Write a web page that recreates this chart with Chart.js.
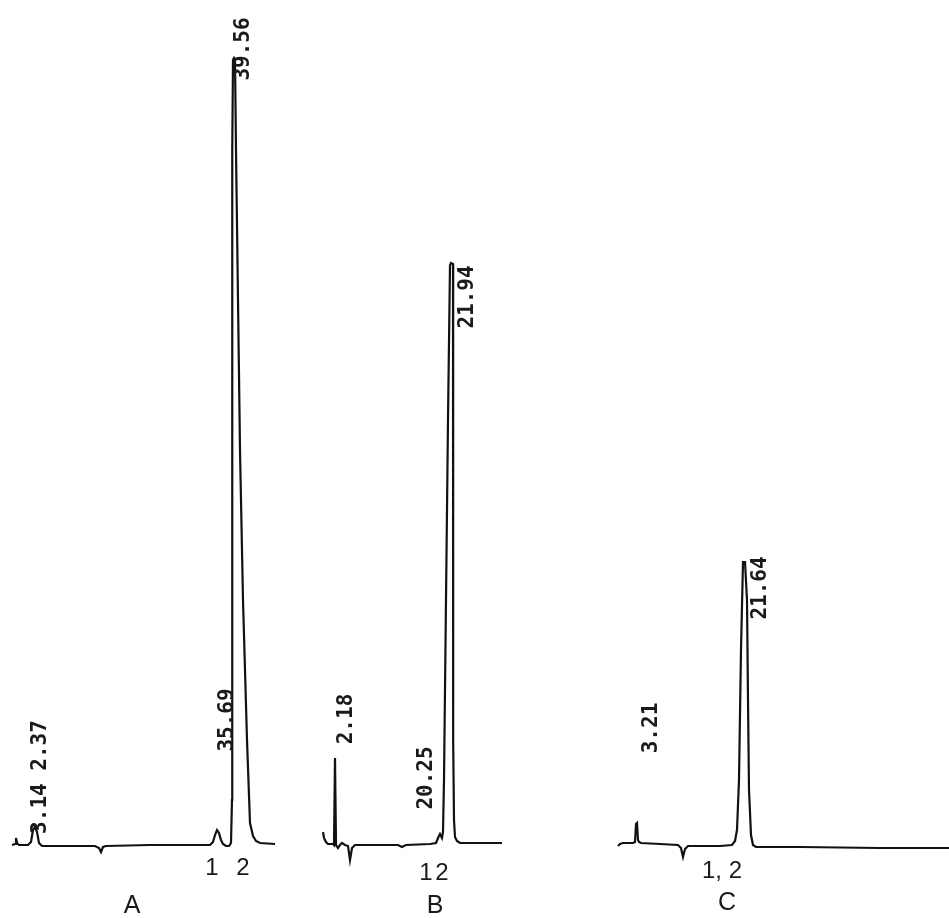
<!DOCTYPE html>
<html>
<head>
<meta charset="utf-8">
<script src="https://cdn.jsdelivr.net/npm/chart.js@4.4.1/dist/chart.umd.min.js"></script>
<style>
  html, body { margin: 0; padding: 0; background: #fff; }
  #wrap { width: 949px; height: 918px; }
</style>
</head>
<body>
<div id="wrap"><canvas id="chrom" width="949" height="918"></canvas></div>
<script>
/* ====== DATA (x = chart position, y = signal height above paper bottom) ====== */

// trace A
const traceA = [
  [12, 73], [15, 74], [16, 80], [17, 75], [19, 73], [28, 73], [31, 76], [33, 88], [35, 91],
  [37, 86], [39, 75], [42, 72], [60, 72], [95, 72], [99, 70], [101, 66], [103, 71], [106, 72],
  [150, 73], [200, 73], [210, 73], [213, 76], [215, 83], [217, 88], [219, 85], [221, 78],
  [223, 74], [226, 72], [229, 72], [231, 75], [232, 118], [232, 418], [232.5, 768], [233, 858],
  [234, 860], [235, 858], [236, 768], [238, 618], [240, 468], [243, 318], [247, 178],
  [250, 95], [253, 82], [256, 77], [260, 75], [275, 74]
];

// trace B
const traceB = [
  [323, 86], [324, 80], [326, 76], [328, 74], [333, 74], [334, 73], [335, 160], [336, 73],
  [338, 70], [340, 73], [342, 75], [345, 73], [348, 72], [350, 58], [352, 70], [355, 73],
  [380, 73], [398, 73], [402, 71], [406, 73], [430, 74], [436, 75], [438, 80], [440, 84],
  [442, 80], [443, 86], [444, 138], [446, 318], [448, 498], [450, 653], [451, 655], [453, 654],
  [453.5, 518], [453, 318], [453, 178], [454, 98], [455, 81], [457, 77], [460, 75],
  [480, 75], [502, 75]
];

// trace C
const traceC = [
  [618, 72], [620, 74], [623, 75], [633, 75], [635, 76], [636, 94], [637, 95], [638, 78],
  [639, 76], [641, 75], [660, 74], [678, 73], [681, 70], [683, 61], [685, 69], [688, 72],
  [720, 72], [732, 73], [735, 77], [737, 88], [739, 138], [741, 268], [743, 356], [745, 356],
  [747, 318], [748, 218], [749, 128], [751, 83], [753, 73], [756, 71], [800, 71], [880, 70],
  [949, 70]
];

// retention time labels printed along the peaks (rotated)
const peakLabels = ["39.56", "35.69", "3.14 2.37", "2.18", "20.25", "21.94", "3.21", "21.64"];
const peakLabelX = [244, 228, 41, 347, 427, 468, 652, 761];
const peakLabelY = [869, 198, 141, 199, 140, 621, 190, 330];

// peak numbers under the baseline
const peakNumbers = ["1", "2", "1", "2", "1, 2"];
const peakNumberX = [212, 243, 426, 442, 722];
const peakNumberY = [50, 50, 45, 45, 47];

// panel letters
const panels = ["A", "B", "C"];
const panelX = [132, 435, 727];
const panelY = [12, 12, 15];

/* ====== TEXT PLUGIN ====== */

const textPlugin = {
  id: "chromText",
  afterDatasetsDraw(chart) {
    const ctx = chart.ctx;
    const xs = chart.scales.x, ys = chart.scales.y;
    ctx.save();
    ctx.fillStyle = "#1a1a1a";
    ctx.textAlign = "center";
    ctx.textBaseline = "middle";

    ctx.font = "bold 21px 'DejaVu Sans Mono'";
    peakLabels.forEach((t, i) => {
      ctx.save();
      ctx.translate(xs.getPixelForValue(peakLabelX[i]), ys.getPixelForValue(peakLabelY[i]));
      ctx.rotate(-Math.PI / 2);
      ctx.fillText(t, 0, 0);
      ctx.restore();
    });

    ctx.font = "24px 'Liberation Sans'";
    peakNumbers.forEach((t, i) => {
      ctx.fillText(t, xs.getPixelForValue(peakNumberX[i]), ys.getPixelForValue(peakNumberY[i]));
    });

    ctx.font = "25px 'Liberation Sans'";
    panels.forEach((t, i) => {
      ctx.fillText(t, xs.getPixelForValue(panelX[i]), ys.getPixelForValue(panelY[i]));
    });
    ctx.restore();
  }
};

/* ====== CHART ====== */

function toPoints(arr) {
  return arr.map(p => ({ x: p[0], y: p[1] }));
}

function traceSet(label, arr) {
  return {
    label: label,
    data: toPoints(arr),
    borderColor: "#111",
    borderWidth: 2.2,
    pointRadius: 0,
    tension: 0,
    fill: false
  };
}

new Chart(document.getElementById("chrom"), {
  type: "line",
  data: {
    datasets: [traceSet("A", traceA), traceSet("B", traceB), traceSet("C", traceC)]
  },
  options: {
    responsive: false,
    animation: false,
    layout: { padding: 0 },
    plugins: { legend: { display: false }, tooltip: { enabled: false } },
    scales: {
      x: { type: "linear", min: 0, max: 949, display: false },
      y: { type: "linear", min: 0, max: 918, display: false }
    }
  },
  plugins: [textPlugin]
});
</script>
</body>
</html>
